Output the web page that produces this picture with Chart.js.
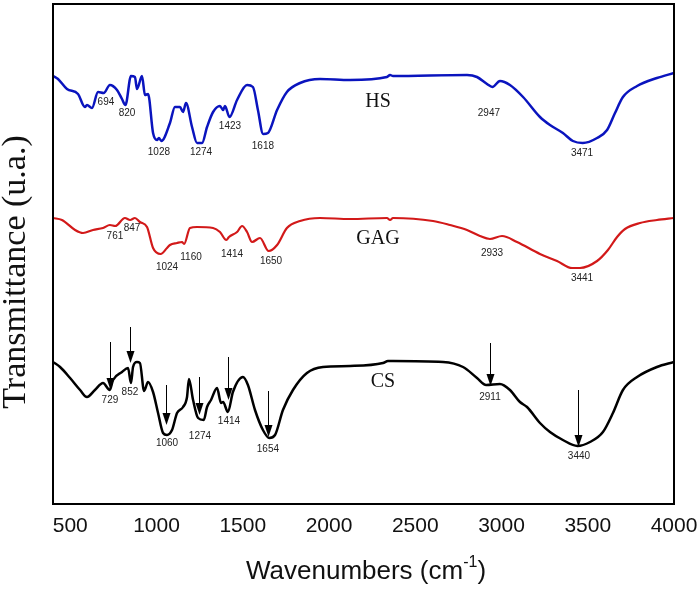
<!DOCTYPE html>
<html>
<head>
<meta charset="utf-8">
<script src="https://cdn.jsdelivr.net/npm/chart.js"></script>
<style>
  html, body { margin: 0; padding: 0; background: #fff; }
  canvas { display: block; }
</style>
</head>
<body>
<canvas id="ftir" width="700" height="589"></canvas>
<script>
// x ticks (wavenumber, cm-1)
const xTicks = [500, 1000, 1500, 2000, 2500, 3000, 3500, 4000];

// HS spectrum (blue) - transmittance in arbitrary units
const hsWave = [400, 429, 481, 545, 585, 597, 626, 661, 694, 730, 771, 800, 820, 852, 875, 887, 916, 933, 951, 980,
  1003, 1014, 1028, 1078, 1107, 1136, 1154, 1171, 1206, 1235, 1264, 1293, 1328, 1368, 1386, 1397, 1423, 1467, 1525, 1559,
  1588, 1618, 1646, 1699, 1756, 1832, 1948, 2122, 2336, 2354, 2371, 2800, 2858, 2916, 2947, 2991, 3049, 3125, 3223, 3281,
  3356, 3414, 3471, 3554, 3612, 3658, 3704, 3786, 3901, 4000];
const hsT = [428, 425, 415, 410, 397, 399, 396, 412, 411, 419, 414, 405, 399, 428, 427, 415, 428, 409, 410, 371,
  364, 366, 363, 381, 397, 397, 392, 401, 377, 361, 361, 377, 392, 398, 394, 398, 387, 404, 419, 417,
  394, 370, 371, 394, 412, 421, 425, 424, 427, 429, 428, 429, 427, 420, 417, 423, 419, 407, 387, 379,
  371, 363, 361, 366, 374, 391, 407, 418, 426, 431];

// GAG spectrum (red)
const gagWave = [400, 452, 528, 574, 632, 690, 730, 761, 817, 847, 875, 904, 945, 980, 1024, 1061, 1078, 1119, 1148, 1160,
  1194, 1235, 1328, 1368, 1405, 1420, 1467, 1496, 1525, 1554, 1600, 1650, 1699, 1756, 1832, 1948, 2122, 2336, 2354, 2371,
  2603, 2701, 2800, 2875, 2933, 3003, 3090, 3223, 3322, 3409, 3455, 3554, 3617, 3670, 3716, 3803, 3901, 4000];
const gagT = [286, 284, 274, 271, 274, 276, 279, 278, 286, 284, 286, 282, 277, 256, 250, 256, 259, 261, 262, 260,
  276, 277, 276, 272, 264, 267, 272, 278, 272, 262, 266, 253, 259, 276, 283, 286, 285, 286, 284, 286,
  283, 279, 274, 268, 265, 268, 262, 250, 243, 236, 236, 243, 254, 267, 275, 281, 284, 286];

// CS spectrum (black)
const csWave = [400, 441, 499, 557, 597, 643, 690, 729, 748, 800, 835, 852, 864, 887, 904, 928, 951, 980, 1009, 1038,
  1060, 1090, 1119, 1154, 1177, 1188, 1212, 1241, 1274, 1293, 1316, 1351, 1374, 1386, 1414, 1443, 1501, 1530, 1571, 1617,
  1654, 1687, 1733, 1791, 1872, 1965, 2122, 2313, 2342, 2371, 2661, 2777, 2858, 2911, 2991, 3049, 3107, 3148, 3223, 3281,
  3356, 3440, 3513, 3588, 3646, 3704, 3786, 3901, 4000];
const csT = [142, 137, 126, 114, 107, 114, 121, 114, 124, 132, 136, 121, 137, 142, 141, 113, 122, 112, 91, 71,
  69, 74, 91, 97, 107, 125, 104, 86, 84, 97, 104, 116, 101, 102, 92, 112, 127, 119, 94, 74,
  66, 69, 94, 114, 131, 137, 138, 141, 143, 143, 142, 137, 126, 119, 120, 114, 102, 97, 81, 72,
  64, 58, 62, 72, 91, 114, 127, 137, 142];

// peak labels: text, and where they sit (wavenumber, transmittance units)
const hsPeaks = ['694', '820', '1028', '1274', '1423', '1618', '2947', '3471'];
const hsPeakX = [707, 829, 1014, 1258, 1426, 1617, 2927, 3467];
const hsPeakY = [402, 391, 352, 352, 378, 358, 391, 351];

const gagPeaks = ['761', '847', '1024', '1160', '1414', '1650', '2933', '3441'];
const gagPeakX = [759, 858, 1061, 1200, 1438, 1664, 2945, 3467];
const gagPeakY = [268, 276, 237, 247, 250, 243, 251, 226];

const csPeaks = ['729', '852', '1060', '1274', '1414', '1654', '2911', '3440'];
const csPeakX = [730, 846, 1061, 1252, 1420, 1646, 2933, 3449];
const csPeakY = [104, 112, 61, 68, 83, 55, 107, 48];

// arrows on the CS trace: x, start and tip
const csArrowX = [730, 846, 1055, 1246, 1414, 1646, 2933, 3443];
const csArrowTop = [162, 177, 119, 127, 147, 113, 161, 114];
const csArrowTip = [114, 141, 79, 89, 104, 67, 118, 57];

// sample names
const sampleNames = ['HS', 'GAG', 'CS'];
const sampleNameX = [2284, 2284, 2313];
const sampleNameY = [402, 265, 122];

const sansFont = "'Liberation Sans Narrow', 'Arial Narrow', 'Liberation Sans', Arial, sans-serif";
const serifFont = "'Liberation Serif', 'Times New Roman', serif";

const toPoints = (xs, ys) => xs.map((x, i) => ({ x, y: ys[i] }));

const annotations = {
  id: 'annotations',
  afterDatasetsDraw(chart) {
    const { ctx, scales: { x, y } } = chart;
    ctx.save();

    // peak numbers
    ctx.fillStyle = '#222';
    ctx.font = "10px 'Liberation Sans', Arial, sans-serif";
    ctx.textAlign = 'center';
    ctx.textBaseline = 'middle';
    const drawPeaks = (texts, xs, ys) => {
      texts.forEach((t, i) => {
        ctx.fillText(t, x.getPixelForValue(xs[i]), y.getPixelForValue(ys[i]));
      });
    };
    drawPeaks(hsPeaks, hsPeakX, hsPeakY);
    drawPeaks(gagPeaks, gagPeakX, gagPeakY);
    drawPeaks(csPeaks, csPeakX, csPeakY);

    // arrows
    ctx.strokeStyle = '#000';
    ctx.fillStyle = '#000';
    ctx.lineWidth = 1;
    csArrowX.forEach((w, i) => {
      const px = Math.round(x.getPixelForValue(w)) + 0.5;
      const top = y.getPixelForValue(csArrowTop[i]);
      const tip = y.getPixelForValue(csArrowTip[i]);
      ctx.beginPath();
      ctx.moveTo(px, top);
      ctx.lineTo(px, tip - 10);
      ctx.stroke();
      ctx.beginPath();
      ctx.moveTo(px - 4, tip - 12);
      ctx.lineTo(px + 4, tip - 12);
      ctx.lineTo(px, tip);
      ctx.closePath();
      ctx.fill();
    });

    // sample names
    ctx.fillStyle = '#111';
    ctx.font = `20px ${serifFont}`;
    sampleNames.forEach((n, i) => {
      ctx.fillText(n, x.getPixelForValue(sampleNameX[i]), y.getPixelForValue(sampleNameY[i]));
    });
    ctx.restore();
  },
  afterDraw(chart) {
    const { ctx, chartArea: a } = chart;
    ctx.save();
    // frame
    ctx.strokeStyle = '#000';
    ctx.lineWidth = 2;
    ctx.strokeRect(a.left, a.top, a.right - a.left, a.bottom - a.top);

    // y title
    ctx.fillStyle = '#111';
    ctx.font = `34px ${serifFont}`;
    ctx.textAlign = 'center';
    ctx.textBaseline = 'alphabetic';
    ctx.translate(25, 272);
    ctx.rotate(-Math.PI / 2);
    ctx.fillText('Transmittance (u.a.)', 0, 0);
    ctx.restore();

    // x title with superscript
    ctx.save();
    ctx.fillStyle = '#111';
    ctx.textBaseline = 'alphabetic';
    ctx.textAlign = 'left';
    const main = `26px ${sansFont}`;
    const sup = `16px ${sansFont}`;
    ctx.font = main;
    const w1 = ctx.measureText('Wavenumbers (cm').width;
    const w3 = ctx.measureText(')').width;
    ctx.font = sup;
    const w2 = ctx.measureText('-1').width;
    let cx = 366 - (w1 + w2 + w3) / 2;
    ctx.font = main;
    ctx.fillText('Wavenumbers (cm', cx, 579);
    cx += w1;
    ctx.font = sup;
    ctx.fillText('-1', cx, 567);
    cx += w2;
    ctx.font = main;
    ctx.fillText(')', cx, 579);
    ctx.restore();
  },
};

new Chart(document.getElementById('ftir'), {
  type: 'line',
  data: {
    datasets: [
      {
        label: 'HS',
        data: toPoints(hsWave, hsT),
        borderColor: 'rgb(10, 20, 190)',
        borderWidth: 2.5,
      },
      {
        label: 'GAG',
        data: toPoints(gagWave, gagT),
        borderColor: 'rgb(210, 25, 25)',
        borderWidth: 2.2,
      },
      {
        label: 'CS',
        data: toPoints(csWave, csT),
        borderColor: '#000',
        borderWidth: 2.5,
      },
    ],
  },
  options: {
    responsive: false,
    animation: false,
    devicePixelRatio: 1,
    layout: { padding: { top: 4, right: 26, bottom: 0, left: 0 } },
    elements: {
      point: { radius: 0 },
      line: { cubicInterpolationMode: 'monotone', fill: false },
    },
    plugins: {
      legend: { display: false },
      tooltip: { enabled: false },
    },
    scales: {
      x: {
        type: 'linear',
        min: 400,
        max: 4000,
        grid: { display: false, drawTicks: false },
        border: { display: false },
        afterBuildTicks: (s) => { s.ticks = xTicks.map((v) => ({ value: v })); },
        afterFit: (s) => {
          s.height = 85;
          s.paddingLeft = 0;
          s.paddingRight = 0;
        },
        ticks: {
          color: '#111',
          padding: 10,
          maxRotation: 0,
          autoSkip: false,
          font: { family: sansFont, size: 21 },
          callback: (v) => String(v),
        },
      },
      y: {
        type: 'linear',
        min: 0,
        max: 500,
        grid: { display: false },
        border: { display: false },
        ticks: { display: false },
        afterFit: (s) => { s.width = 53; },
      },
    },
  },
  plugins: [annotations],
});
</script>
</body>
</html>
